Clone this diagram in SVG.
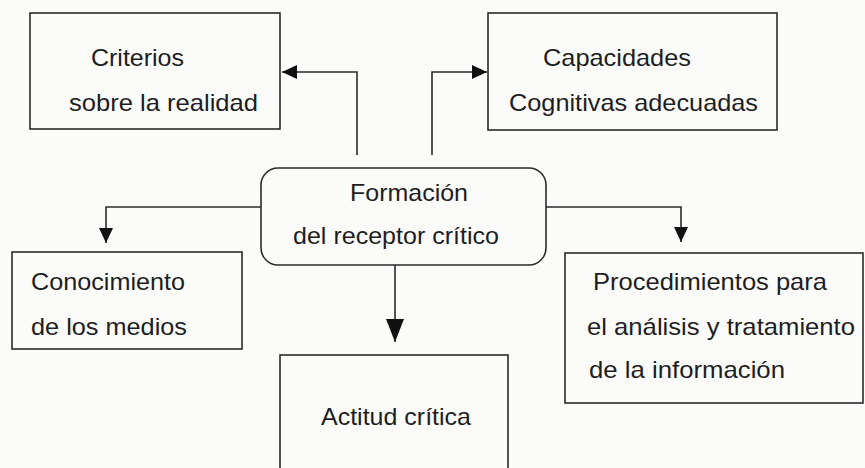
<svg xmlns="http://www.w3.org/2000/svg" width="865" height="468" viewBox="0 0 865 468">
<style>
.box{fill:none;stroke:#2b2b2b;stroke-width:1.6}
.ln{fill:none;stroke:#2b2b2b;stroke-width:1.6}
text{font-family:"Liberation Sans",Arial,sans-serif;font-size:24px;fill:#1e1e1e}
</style>
<defs>
<marker id="ah" markerUnits="userSpaceOnUse" markerWidth="16" markerHeight="15" refX="15" refY="7" orient="auto">
<path d="M0,0 L15,7 L0,14 z" fill="#111"/>
</marker>
<marker id="ahL" markerUnits="userSpaceOnUse" markerWidth="24" markerHeight="19" refX="23" refY="9" orient="auto">
<path d="M0,0 L23,9 L0,18 z" fill="#111"/>
</marker>
</defs>
<rect width="865" height="468" fill="#fbfbfa"/>
<g id="connectors">
<path class="ln" d="M357,155 V72 H282" marker-end="url(#ah)"/>
<path class="ln" d="M432,155 V72 H487" marker-end="url(#ah)"/>
<path class="ln" d="M261,207 H106 V243" marker-end="url(#ah)"/>
<path class="ln" d="M546,207 H681 V242" marker-end="url(#ah)"/>
<path class="ln" d="M395,265 V342" marker-end="url(#ahL)"/>
</g>
<g id="criterios">
<rect class="box" x="30" y="13" width="250" height="116"/>
<text x="91" y="66" textLength="93" lengthAdjust="spacingAndGlyphs">Criterios</text>
<text x="69" y="111" textLength="189" lengthAdjust="spacingAndGlyphs">sobre la realidad</text>
</g>
<g id="capacidades">
<rect class="box" x="488" y="13" width="289" height="117"/>
<text x="543" y="66" textLength="148" lengthAdjust="spacingAndGlyphs">Capacidades</text>
<text x="509" y="111" textLength="249" lengthAdjust="spacingAndGlyphs">Cognitivas adecuadas</text>
</g>
<g id="formacion">
<rect class="box" x="261" y="168" width="285" height="97" rx="17" ry="17"/>
<text x="350" y="201" textLength="118" lengthAdjust="spacingAndGlyphs">Formación</text>
<text x="293" y="244" textLength="206" lengthAdjust="spacingAndGlyphs">del receptor crítico</text>
</g>
<g id="conocimiento">
<rect class="box" x="12" y="252" width="230" height="97"/>
<text x="31" y="290" textLength="154" lengthAdjust="spacingAndGlyphs">Conocimiento</text>
<text x="31" y="335" textLength="156" lengthAdjust="spacingAndGlyphs">de los medios</text>
</g>
<g id="procedimientos">
<rect class="box" x="565" y="253" width="298" height="150"/>
<text x="593" y="290" textLength="234" lengthAdjust="spacingAndGlyphs">Procedimientos para</text>
<text x="587" y="335" textLength="268" lengthAdjust="spacingAndGlyphs">el análisis y tratamiento</text>
<text x="589" y="378" textLength="196" lengthAdjust="spacingAndGlyphs">de la información</text>
</g>
<g id="actitud">
<rect class="box" x="280" y="355" width="228" height="130"/>
<text x="321" y="425" textLength="150" lengthAdjust="spacingAndGlyphs">Actitud crítica</text>
</g>
</svg>
